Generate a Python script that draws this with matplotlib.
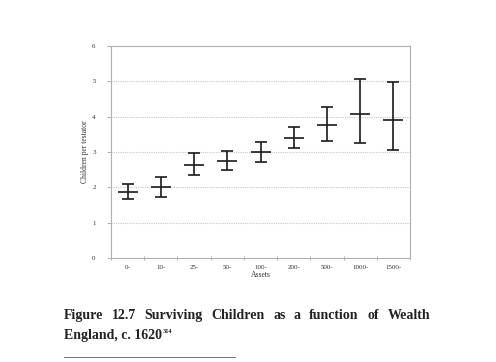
import matplotlib.pyplot as plt
import numpy as np
from matplotlib.lines import Line2D

# Data
categories = ["0-", "10-", "25-", "50-", "100-", "200-", "500-", "1000-", "1500-"]
means = [1.86, 2.00, 2.64, 2.75, 2.99, 3.40, 3.77, 4.07, 3.90]
upper = [2.10, 2.30, 2.97, 3.03, 3.29, 3.71, 4.28, 5.08, 4.97]
lower = [1.66, 1.72, 2.35, 2.49, 2.73, 3.11, 3.32, 3.25, 3.06]

plt.rcParams['font.family'] = ['Liberation Serif', 'DejaVu Serif']

fig = plt.figure(figsize=(4.96, 3.62), dpi=100)
ax = fig.add_axes([111 / 496, 1 - 258 / 362, 299 / 496, 212 / 362])

x = np.arange(len(categories))
m = np.array(means)
yerr = [m - np.array(lower), np.array(upper) - m]

ax.errorbar(x, m, yerr=yerr, fmt='_', color='#1a1a1a', ecolor='#1a1a1a',
            elinewidth=1.2, capsize=4, capthick=1.2, markersize=14, mew=1.2)

ax.set_xlim(-0.5, len(categories) - 0.5)
ax.set_ylim(0, 6)
ax.set_yticks(range(0, 7))
ax.set_xticks(x)
ax.set_xticklabels(categories)
ax.set_xticks(np.arange(-0.5, len(categories)), minor=True)

# dotted horizontal gridlines
for v in range(1, 6):
    ax.axhline(v, color='#c8c8c8', lw=0.8, ls=(0, (1, 1)), zorder=0)

for s in ax.spines.values():
    s.set_color('#b0b0b0')
    s.set_linewidth(0.8)

ax.tick_params(axis='x', which='major', length=0, labelsize=5, pad=5,
               labelcolor='#333333')
ax.tick_params(axis='x', which='minor', length=3, direction='inout',
               color='#b0b0b0', width=0.7)
ax.tick_params(axis='y', length=3, color='#b0b0b0', width=0.7,
               labelsize=5, pad=8, labelcolor='#333333')

ax.set_xlabel("Assets", fontsize=5.5, color='#333333', labelpad=1)
ax.set_ylabel("Children per testator", fontsize=5.5, color='#333333', labelpad=2)

# Caption, justified line
line1 = ["Figure", "12.7", "Surviving", "Children", "as", "a", "function", "of", "Wealth"]
cap_left, cap_right = 64 / 496, 430 / 496
cap_size = 10
fig.canvas.draw()
r = fig.canvas.get_renderer()
texts = [fig.text(0, 1 - 319 / 362, w, fontsize=cap_size, fontweight='bold',
                  va='baseline', ha='left', color='#222222') for w in line1]
widths = [t.get_window_extent(r).width / fig.bbox.width for t in texts]
gap = (cap_right - cap_left - sum(widths)) / (len(line1) - 1)
pos = cap_left
for t, w in zip(texts, widths):
    t.set_x(pos)
    pos += w + gap

t2 = fig.text(cap_left, 1 - 339 / 362, "England, c. 1620", fontsize=cap_size,
              fontweight='bold', va='baseline', ha='left', color='#222222')
w2 = t2.get_window_extent(r).width / fig.bbox.width
fig.text(cap_left + w2 + 0.002, 1 - 333 / 362, "314", fontsize=4.5,
         fontweight='bold', va='baseline', ha='left', color='#222222')

# footnote separator
fig.add_artist(Line2D([64 / 496, 235 / 496], [1 - 357 / 362, 1 - 357 / 362],
                      color='#777777', lw=0.7))

plt.savefig("out.png", dpi=100)
